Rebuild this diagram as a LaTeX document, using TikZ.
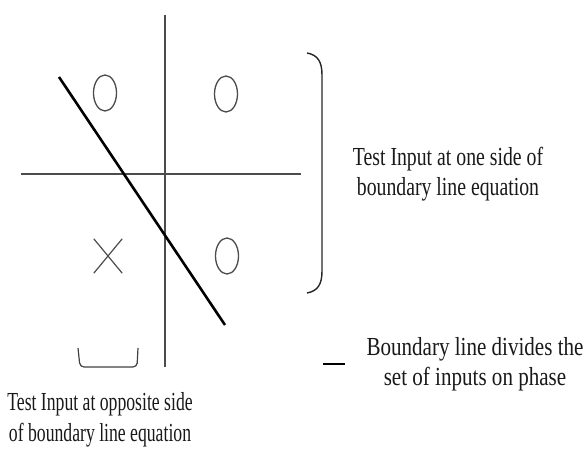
\documentclass[tikz,border=0pt]{standalone}
\usepackage{fontspec}
\setmainfont{Liberation Serif}
\newfontfamily\condA[FakeStretch=0.76]{Liberation Serif}
\newfontfamily\condB[FakeStretch=0.68]{Liberation Serif}
\newfontfamily\condC[FakeStretch=0.81]{Liberation Serif}
\usetikzlibrary{shapes.geometric}
\begin{document}
\begin{tikzpicture}[x=1pt,y=-1pt,
  axis/.style={draw=black!70,line width=1.2pt},
  boundary/.style={draw=black,line width=2.6pt},
  ring/.style={draw=black!70,line width=1.3pt,ellipse,minimum width=23pt,minimum height=36pt,inner sep=0pt},
  brace/.style={draw=black!85,line width=1.4pt},
  label/.style={align=center,inner sep=0pt,text=black!90}]
\useasboundingbox (0,0) rectangle (587,457);
% axes
\coordinate (vt) at (165,15);
\coordinate (vb) at (165,367);
\coordinate (hl) at (21,174);
\coordinate (hr) at (301,174);
\draw[axis] (vt) -- (vb);
\draw[axis] (hl) -- (hr);
% boundary line
\coordinate (bs) at (59,77);
\coordinate (be) at (225,325);
\draw[boundary] (bs) -- (be);
% circles
\node[ring] (o1) at (105,93) {};
\node[ring] (o2) at (226,94) {};
\node[ring] (o3) at (227,256) {};
% cross
\node[inner sep=0pt,minimum width=28pt,minimum height=34pt] (x1) at (108,256) {};
\draw[draw=black!70,line width=1.2pt] (x1.north west) -- (x1.south east) (x1.north east) -- (x1.south west);
% right bracket
\coordinate (rb1) at (307,53);
\coordinate (rb2) at (307,293);
\draw[brace] (rb1) .. controls (318,55) and (322,62) .. (322,75) -- (322,271) .. controls (322,284) and (318,291) .. (rb2);
% bottom bracket
\coordinate (lb1) at (78,348);
\coordinate (lb2) at (138,348);
\draw[draw=black!75,line width=1.2pt,rounded corners=4pt] (lb1) -- (80,367) -- (137,367) -- (lb2);
% legend dash
\coordinate (d1) at (323,364);
\coordinate (d2) at (345,364);
\draw[draw=black,line width=2.6pt] (d1) -- (d2);
% labels
\node[label,font=\condA\fontsize{26}{30}\selectfont] (t1) at (448,174) {Test Input at one side of\\boundary line equation};
\node[label,font=\condB\fontsize{26}{31}\selectfont] (t2) at (100,420) {Test Input at opposite side\\of boundary line equation};
\node[label,font=\condC\fontsize{26}{30}\selectfont] (t3) at (475,364) {Boundary line divides the\\set of inputs on phase};
\end{tikzpicture}
\end{document}
